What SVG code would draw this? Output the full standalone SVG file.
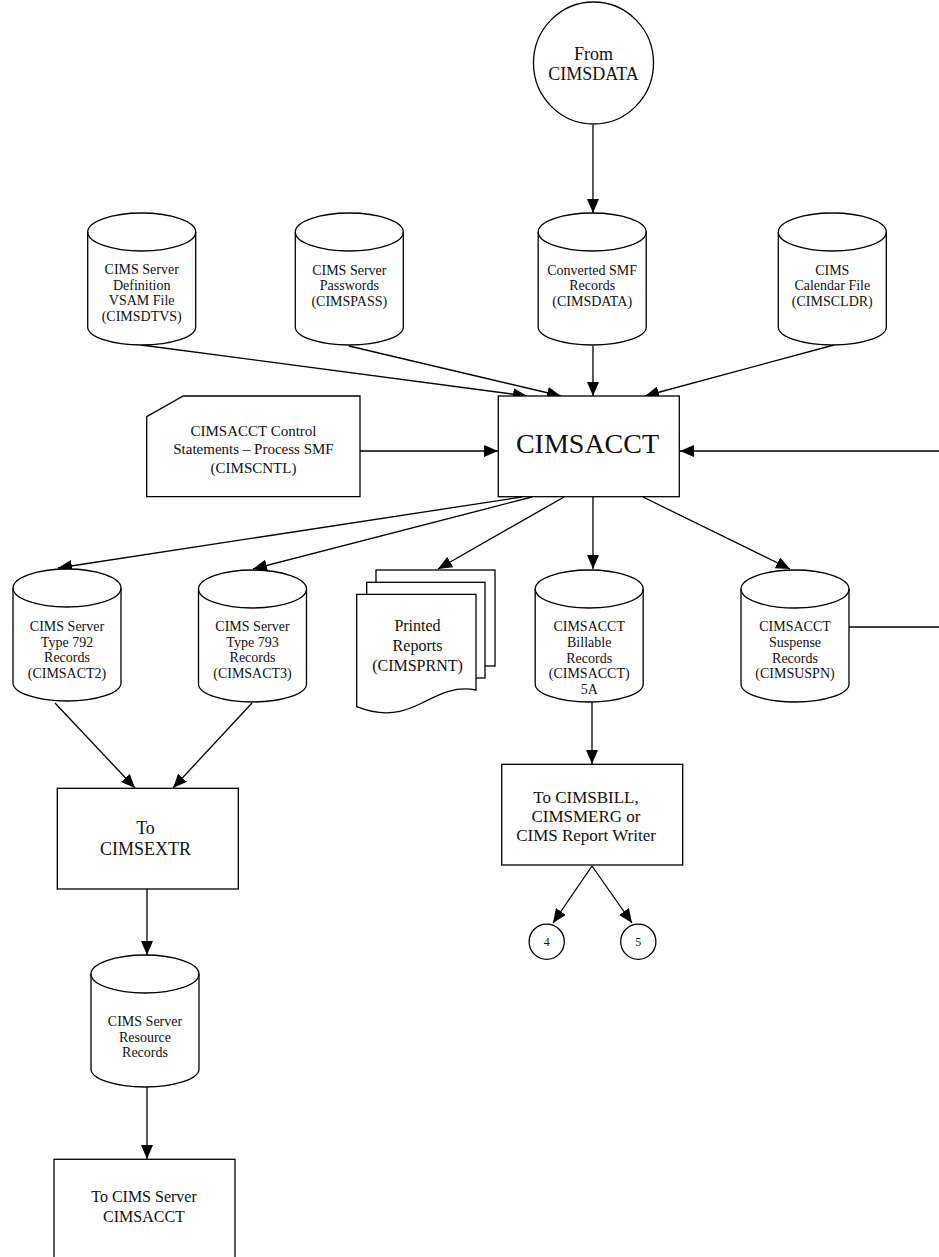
<svg xmlns="http://www.w3.org/2000/svg" xmlns:xlink="http://www.w3.org/1999/xlink" width="939" height="1257" viewBox="0 0 939 1257">
<style>
.s{fill:#fff;stroke:#000;stroke-width:1.3}
.ln{fill:none;stroke:#000;stroke-width:1.3}
text{font-family:"Liberation Serif","Times New Roman",serif;fill:#111;text-anchor:middle}
.t14{font-size:14px}
.t15{font-size:15px}
.t16{font-size:16px}
.t17{font-size:17px}
.t18{font-size:18px}
.t12{font-size:12px}
.big{font-size:28px}
</style>
<defs>
<marker id="ah" viewBox="0 0 14 12" refX="14" refY="6" markerWidth="14" markerHeight="12" markerUnits="userSpaceOnUse" orient="auto">
<path d="M0,0 L14,6 L0,12 Z" fill="#000"/>
</marker>
<g id="cyl">
<path class="s" d="M-54,19 A54,19 0 0 1 54,19 V114 A54,18 0 0 1 -54,114 Z"/>
<path class="ln" d="M-54,19 A54,19 0 0 0 54,19"/>
</g>
</defs>
<rect width="939" height="1257" fill="#fff"/>

<g id="connectors">
<path class="ln" marker-end="url(#ah)" d="M593,125 V213"/>
<path class="ln" marker-end="url(#ah)" d="M141,345 L527,396"/>
<path class="ln" marker-end="url(#ah)" d="M349,346 L561,396"/>
<path class="ln" marker-end="url(#ah)" d="M593,346 V396"/>
<path class="ln" marker-end="url(#ah)" d="M834,345 L645,396"/>
<path class="ln" marker-end="url(#ah)" d="M360,451 H498"/>
<path class="ln" marker-end="url(#ah)" d="M939,451 H680"/>
<path class="ln" marker-end="url(#ah)" d="M522,497 L58,568"/>
<path class="ln" marker-end="url(#ah)" d="M532,497 L253,569"/>
<path class="ln" marker-end="url(#ah)" d="M564,497 L438,569"/>
<path class="ln" marker-end="url(#ah)" d="M593,497 V569"/>
<path class="ln" marker-end="url(#ah)" d="M643,497 L790,569"/>
<path class="ln" d="M849,627 H939"/>
<path class="ln" marker-end="url(#ah)" d="M592,702 V764"/>
<path class="ln" marker-end="url(#ah)" d="M592,866 L553,923"/>
<path class="ln" marker-end="url(#ah)" d="M592,866 L632,923"/>
<path class="ln" marker-end="url(#ah)" d="M55,703 L135,788"/>
<path class="ln" marker-end="url(#ah)" d="M252,703 L173,788"/>
<path class="ln" marker-end="url(#ah)" d="M147,889 V955"/>
<path class="ln" marker-end="url(#ah)" d="M147,1087 V1159"/>
</g>

<g id="from-cimsdata">
<ellipse class="s" cx="593.5" cy="63" rx="60" ry="61"/>
<text class="t18" x="593.5" y="59.5">From</text>
<text class="t18" x="593.5" y="80">CIMSDATA</text>
</g>

<g id="cimsdtvs">
<use xlink:href="#cyl" x="141.7" y="213"/>
<text class="t14" x="141.7" y="274">CIMS Server</text>
<text class="t14" x="141.7" y="289.5">Definition</text>
<text class="t14" x="141.7" y="305">VSAM File</text>
<text class="t14" x="141.7" y="320.5">(CIMSDTVS)</text>
</g>

<g id="cimspass">
<use xlink:href="#cyl" x="349.3" y="213"/>
<text class="t14" x="349.3" y="274.5">CIMS Server</text>
<text class="t14" x="349.3" y="290">Passwords</text>
<text class="t14" x="349.3" y="305.5">(CIMSPASS)</text>
</g>

<g id="cimsdata">
<use xlink:href="#cyl" x="592.2" y="213"/>
<text class="t14" x="592.2" y="274.5">Converted SMF</text>
<text class="t14" x="592.2" y="290">Records</text>
<text class="t14" x="592.2" y="305.5">(CIMSDATA)</text>
</g>

<g id="cimscldr">
<use xlink:href="#cyl" x="832.3" y="213"/>
<text class="t14" x="832.3" y="274.5">CIMS</text>
<text class="t14" x="832.3" y="290">Calendar File</text>
<text class="t14" x="832.3" y="305.5">(CIMSCLDR)</text>
</g>

<g id="cimscntl">
<path class="s" d="M183.3,396 H360 V496.7 H146.7 V416.7 Z"/>
<text class="t15" x="253.5" y="436">CIMSACCT Control</text>
<text class="t15" x="253.5" y="454">Statements – Process SMF</text>
<text class="t15" x="253.5" y="472.5">(CIMSCNTL)</text>
</g>

<g id="cimsacct">
<rect class="s" x="498.3" y="396" width="181" height="100.7"/>
<text class="big" x="587.5" y="452.7">CIMSACCT</text>
</g>

<g id="cimsact2">
<use xlink:href="#cyl" x="67" y="569"/>
<text class="t14" x="67" y="631">CIMS Server</text>
<text class="t14" x="67" y="646.5">Type 792</text>
<text class="t14" x="67" y="662">Records</text>
<text class="t14" x="67" y="677.5">(CIMSACT2)</text>
</g>

<g id="cimsact3">
<use xlink:href="#cyl" x="252.5" y="570"/>
<text class="t14" x="252.5" y="631">CIMS Server</text>
<text class="t14" x="252.5" y="646.5">Type 793</text>
<text class="t14" x="252.5" y="662">Records</text>
<text class="t14" x="252.5" y="677.5">(CIMSACT3)</text>
</g>

<g id="cimsprnt">
<rect class="s" x="376" y="570" width="119" height="96"/>
<rect class="s" x="366.7" y="582.3" width="118.3" height="95.7"/>
<path class="s" d="M356.7,594.3 H476 V690 C455,686 440,694 422,703 C404,712 385,718 356.7,706.7 Z"/>
<text class="t16" x="417.5" y="630.7">Printed</text>
<text class="t16" x="417.5" y="650.5">Reports</text>
<text class="t16" x="417.5" y="670.7">(CIMSPRNT)</text>
</g>

<g id="cimsacct-billable">
<use xlink:href="#cyl" x="589.2" y="570"/>
<text class="t14" x="589.2" y="631">CIMSACCT</text>
<text class="t14" x="589.2" y="647">Billable</text>
<text class="t14" x="589.2" y="662.5">Records</text>
<text class="t14" x="589.2" y="678">(CIMSACCT)</text>
<text class="t14" x="589.2" y="694">5A</text>
</g>

<g id="cimsuspn">
<use xlink:href="#cyl" x="795" y="570"/>
<text class="t14" x="795" y="631">CIMSACCT</text>
<text class="t14" x="795" y="647">Suspense</text>
<text class="t14" x="795" y="662.5">Records</text>
<text class="t14" x="795" y="678">(CIMSUSPN)</text>
</g>

<g id="to-cimsbill">
<rect class="s" x="501.7" y="764.3" width="181" height="100.7"/>
<text class="t17" x="586" y="802.7">To CIMSBILL,</text>
<text class="t17" x="586" y="821.7">CIMSMERG or</text>
<text class="t17" x="586" y="840.7">CIMS Report Writer</text>
</g>

<g id="conn-4">
<circle class="s" cx="546.7" cy="941.7" r="17.6"/>
<text class="t12" x="546.7" y="946">4</text>
</g>

<g id="conn-5">
<circle class="s" cx="638.3" cy="941.7" r="17.6"/>
<text class="t12" x="638.3" y="946">5</text>
</g>

<g id="to-cimsextr">
<rect class="s" x="57.3" y="788.3" width="181" height="100.7"/>
<text class="t18" x="145.5" y="834">To</text>
<text class="t18" x="145.5" y="855">CIMSEXTR</text>
</g>

<g id="resource-records">
<use xlink:href="#cyl" x="145" y="955"/>
<text class="t14" x="145" y="1026">CIMS Server</text>
<text class="t14" x="145" y="1041.5">Resource</text>
<text class="t14" x="145" y="1057">Records</text>
</g>

<g id="to-cims-server-cimsacct">
<rect class="s" x="54" y="1159.3" width="181" height="110"/>
<text class="t16" x="144" y="1202.3">To CIMS Server</text>
<text class="t16" x="144" y="1221.7">CIMSACCT</text>
</g>
</svg>
